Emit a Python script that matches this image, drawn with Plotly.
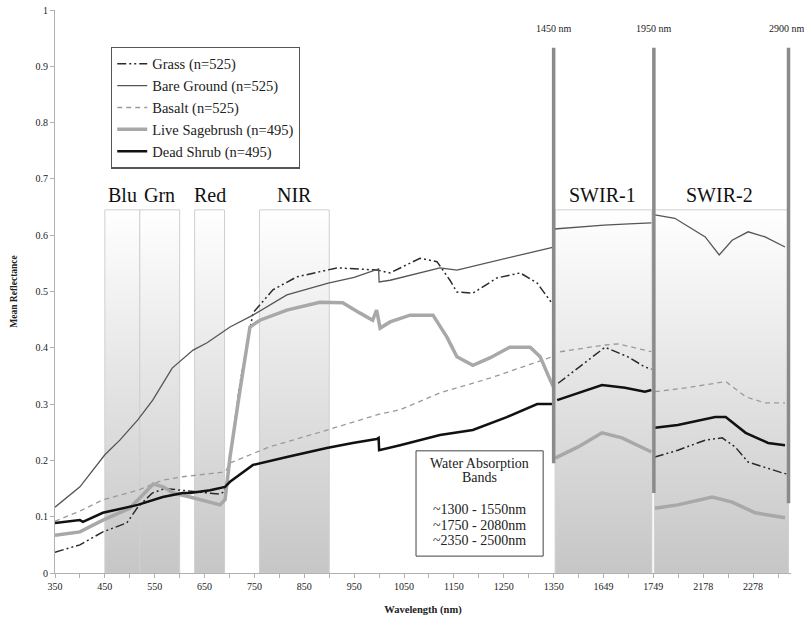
import plotly.graph_objects as go

# ---------------- data (wavelength nm, mean reflectance) ----------------
grass_wl = [350, 400, 446, 494, 516, 545, 570, 600, 650, 681, 690, 695, 721, 747, 787, 835, 916, 960, 996,
            1022, 1082, 1116, 1142, 1156, 1188, 1236, 1283, 1317, 1343, 1350,
            1558, 1612, 1652, 1698, 1732, 1745,
            2081, 2127, 2182, 2216, 2242, 2268, 2336, 2345]
grass_val = [0.037, 0.050, 0.073, 0.089, 0.117, 0.142, 0.150, 0.147, 0.142, 0.140, 0.145, 0.165, 0.337, 0.462, 0.503, 0.526, 0.542, 0.540, 0.538,
             0.533, 0.559, 0.553, 0.520, 0.499, 0.497, 0.524, 0.533, 0.515, 0.485, 0.475,
             0.337, 0.373, 0.401, 0.384, 0.366, 0.362,
             0.206, 0.218, 0.236, 0.240, 0.224, 0.197, 0.178, 0.176]

bare_wl = [350, 400, 450, 480, 516, 546, 585, 627, 655, 701, 747, 815, 898, 950, 999, 1000,
           1022, 1122, 1156, 1222, 1303, 1350,
           1550, 1600, 1650, 1700, 1745,
           2081, 2121, 2182, 2210, 2236, 2268, 2302, 2342]
bare_val = [0.117, 0.153, 0.210, 0.236, 0.272, 0.307, 0.364, 0.396, 0.409, 0.437, 0.458, 0.494, 0.515, 0.525, 0.540, 0.517,
            0.520, 0.542, 0.538, 0.552, 0.570, 0.579,
            0.611, 0.615, 0.618, 0.620, 0.622,
            0.636, 0.630, 0.597, 0.565, 0.591, 0.606, 0.597, 0.579]

basalt_wl = [350, 400, 446, 516, 566, 606, 686, 692, 700, 780, 881, 961, 1000, 1042, 1122, 1222, 1337, 1350,
             1562, 1600, 1652, 1678, 1745,
             2081, 2145, 2223, 2263, 2302, 2342]
basalt_val = [0.092, 0.110, 0.130, 0.147, 0.165, 0.171, 0.179, 0.180, 0.195, 0.224, 0.250, 0.272, 0.282, 0.290, 0.320, 0.346, 0.382, 0.385,
              0.393, 0.398, 0.405, 0.407, 0.393,
              0.322, 0.329, 0.340, 0.313, 0.302, 0.302]

sage_wl = [350, 400, 446, 500, 535, 547, 567, 587, 621, 661, 681, 691, 701, 721, 741, 761, 815, 881, 927, 961,
           987, 995, 1002, 1022, 1062, 1108, 1136, 1156, 1188, 1222, 1262, 1303, 1323, 1343, 1350,
           1552, 1598, 1646, 1686, 1738, 1745,
           2081, 2127, 2196, 2236, 2282, 2342]
sage_val = [0.067, 0.073, 0.094, 0.115, 0.147, 0.158, 0.153, 0.142, 0.135, 0.126, 0.121, 0.130, 0.206, 0.325, 0.437, 0.449, 0.467, 0.481, 0.480, 0.462,
            0.449, 0.467, 0.435, 0.446, 0.458, 0.458, 0.419, 0.384, 0.369, 0.382, 0.401, 0.401, 0.384, 0.343, 0.330,
            0.204, 0.224, 0.249, 0.240, 0.218, 0.215,
            0.115, 0.121, 0.135, 0.126, 0.107, 0.098]

dead_wl = [350, 380, 400, 406, 446, 516, 566, 606, 621, 661, 691, 701, 747, 815, 895, 947, 995, 999, 1000,
           1042, 1122, 1188, 1256, 1317, 1350,
           1556, 1598, 1646, 1692, 1732, 1745,
           2081, 2127, 2202, 2223, 2263, 2308, 2342]
dead_val = [0.089, 0.092, 0.094, 0.091, 0.107, 0.121, 0.135, 0.142, 0.142, 0.147, 0.153, 0.162, 0.192, 0.206, 0.222, 0.231, 0.238, 0.240, 0.218,
            0.227, 0.245, 0.254, 0.277, 0.300, 0.300,
            0.307, 0.320, 0.334, 0.329, 0.322, 0.325,
            0.258, 0.263, 0.277, 0.277, 0.249, 0.231, 0.227]

series_names = ["Grass (n=525)", "Bare Ground (n=525)", "Basalt (n=525)",
                "Live Sagebrush (n=495)", "Dead Shrub (n=495)"]

# spectral bands (name, start nm, end nm)
band_names = ["Blu", "Grn", "Red", "NIR", "SWIR-1", "SWIR-2"]
band_start = [450, 520, 630, 760, 1550, 2080]
band_end = [520, 600, 690, 900, 1749, 2349]
band_top = 0.645

# axis tick labels (wavelength nm)
tick_wl = [350, 450, 550, 650, 750, 850, 950, 1050, 1150, 1250, 1350, 1649, 1749, 2178, 2278]
minor_wl = [400, 500, 600, 700, 800, 900, 1000, 1100, 1200, 1300, 1599, 1699, 2128, 2228, 2328]

# water absorption gap markers
gap_wl = [1350, 1749, 2349]
gap_labels = ["1450 nm", "1950 nm", "2900 nm"]
gap_bottom = [0.195, 0.142, 0.124]

water_lines = ["Water Absorption", "Bands", "", "~1300 - 1550nm", "~1750 - 2080nm", "~2350 - 2500nm"]


# ---------------- compressed wavelength axis (water bands removed) ----------------
def seg(w):
    return 0 if w <= 1350 else (1 if w <= 1749 else 2)


def to_idx(w):
    if w <= 1350:
        return w - 350
    if w <= 1749:
        return 1001 + (w - 1550)
    return 1201 + (w - 2079)


def build(wl, val):
    xs, ys = [], []
    prev = None
    for w, v in zip(wl, val):
        s = seg(w)
        if prev is not None and s != prev:
            xs.append(None)
            ys.append(None)
        xs.append(to_idx(w))
        ys.append(v)
        prev = s
    return xs, ys


SERIF = "Liberation Serif"
fig = go.Figure()

# band boxes with vertical gradient
for nm, a, b in zip(band_names, band_start, band_end):
    xa, xb = to_idx(a) + (2 if nm == "SWIR-1" else 0), to_idx(b) - (3 if nm == "SWIR-1" else 0)
    fig.add_trace(go.Scatter(
        x=[xa, xb, xb, xa, xa], y=[0, 0, band_top, band_top, 0],
        mode="lines", fill="toself",
        line=dict(color="#cfcfcf", width=1),
        fillgradient=dict(type="vertical", colorscale=[[0, "#c6c6c6"], [1, "#ffffff"]]),
        showlegend=False, hoverinfo="skip"))

styles = [
    dict(color="#2a2a2a", width=1.5, dash="9px,3px,2px,3px,2px,3px"),
    dict(color="#555555", width=1.3),
    dict(color="#9a9a9a", width=1.3, dash="5px,4px"),
    dict(color="#a8a8a8", width=3.5),
    dict(color="#111111", width=2.5),
]
data = [(grass_wl, grass_val), (bare_wl, bare_val), (basalt_wl, basalt_val),
        (sage_wl, sage_val), (dead_wl, dead_val)]

for name, (wl, val), st in zip(series_names, data, styles):
    xs, ys = build(wl, val)
    fig.add_trace(go.Scatter(x=xs, y=ys, mode="lines", name=name, line=st,
                             connectgaps=False))

shapes = []
annotations = []
for w, lab, yb in zip(gap_wl, gap_labels, gap_bottom):
    xi = to_idx(w) + (1 if w == 1749 else 0)
    shapes.append(dict(type="line", xref="x", yref="y", x0=xi, x1=xi, y0=yb, y1=0.933,
                       line=dict(color="#8a8a8a", width=3.5)))
    annotations.append(dict(x=xi, y=0.968, xref="x", yref="y", text=lab, showarrow=False,
                            xshift=(-2 if w == 2349 else 0),
                            font=dict(family=SERIF, size=10, color="#222")))

band_label_x = {"Blu": 486, "Grn": 560, "Red": 660, "NIR": 830, "SWIR-1": 1646, "SWIR-2": 2210}
for nm in band_names:
    annotations.append(dict(x=to_idx(band_label_x[nm]), y=0.672, xref="x", yref="y", text=nm,
                            showarrow=False, font=dict(family=SERIF, size=20, color="#111")))

# water absorption box
shapes.append(dict(type="rect", xref="x", yref="y", x0=to_idx(1074), x1=to_idx(1329), y0=0.030, y1=0.217,
                   line=dict(color="#444", width=1), fillcolor="white", layer="above"))
wy = [0.195, 0.169, 0.14, 0.112, 0.084, 0.057]
for t, yy in zip(water_lines, wy):
    if t:
        annotations.append(dict(x=to_idx(1201), y=yy, xref="x", yref="y", text=t, showarrow=False,
                                font=dict(family=SERIF, size=14, color="#222")))

tickvals = [to_idx(w) for w in tick_wl] + [to_idx(w) for w in minor_wl]
ticktext = [str(w) for w in tick_wl] + ["" for _ in minor_wl]

fig.update_layout(
    width=804, height=621,
    margin=dict(l=55, r=13, t=10, b=48),
    paper_bgcolor="white", plot_bgcolor="white",
    font=dict(family=SERIF, color="#222"),
    shapes=shapes, annotations=annotations,
    legend=dict(x=0.076, y=0.935, xanchor="left", yanchor="top",
                bgcolor="white", bordercolor="#555", borderwidth=1.3,
                font=dict(family=SERIF, size=14.5, color="#222"),
                tracegroupgap=0, itemwidth=30),
    xaxis=dict(range=[0, 1476], tickmode="array", tickvals=tickvals, ticktext=ticktext,
               automargin=False,
               showgrid=False, zeroline=False, showline=True, linecolor="#b0b0b0", linewidth=1,
               ticks="outside", ticklen=4, tickcolor="#b0b0b0",
               tickfont=dict(family=SERIF, size=10, color="#222"),
               title=dict(text="<b>Wavelength (nm)</b>", font=dict(family=SERIF, size=10.5, color="#222"),
                          standoff=14)),
    yaxis=dict(range=[0, 1], tickmode="array", tickvals=[i / 10 for i in range(11)],
               ticktext=["0", "0.1", "0.2", "0.3", "0.4", "0.5", "0.6", "0.7", "0.8", "0.9", "1"],
               automargin=False,
               showgrid=False, zeroline=False, showline=True, linecolor="#b0b0b0", linewidth=1,
               ticks="outside", ticklen=4, tickcolor="#b0b0b0",
               tickfont=dict(family=SERIF, size=10, color="#222"),
               title=dict(text="<b>Mean Reflectance</b>", font=dict(family=SERIF, size=9.5, color="#222"),
                          standoff=16)),
)

fig.write_html("out.html")
